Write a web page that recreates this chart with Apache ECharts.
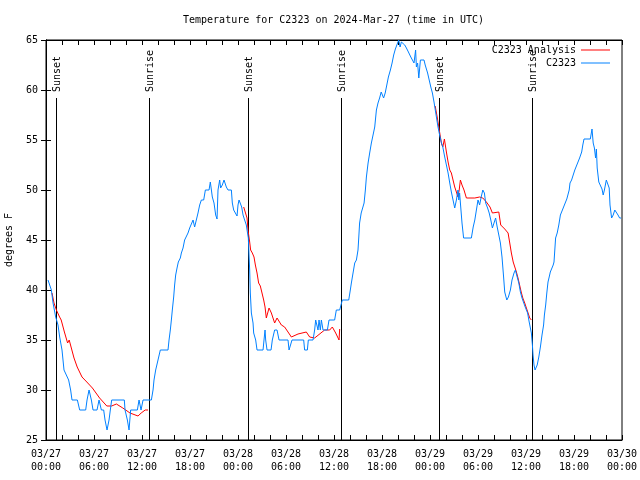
<!DOCTYPE html>
<html><head><meta charset="utf-8">
<script src="https://cdn.jsdelivr.net/npm/echarts@6/dist/echarts.min.js"></script>
<style>html,body{margin:0;padding:0;background:#fff}#c{width:640px;height:480px}</style>
</head><body><div id="c"></div>
<script>
// hours since 2024-03-27 00:00 UTC
const xTickLabels = ['03/27\n00:00','03/27\n06:00','03/27\n12:00','03/27\n18:00','03/28\n00:00','03/28\n06:00','03/28\n12:00','03/28\n18:00','03/29\n00:00','03/29\n06:00','03/29\n12:00','03/29\n18:00','03/30\n00:00'];
const sunTimes = [1.25, 12.875, 25.25, 36.875, 49.125, 60.75];
const sunLabels = ['Sunset','Sunrise','Sunset','Sunrise','Sunset','Sunrise'];
const sunLineTop = 59.2;

const obsHours = [0.25,0.45,0.67,0.88,1.21,1.5,1.71,2.0,2.25,2.54,2.83,3.08,3.25,3.92,4.21,4.96,5.13,5.38,5.67,5.88,6.38,6.63,6.92,7.21,7.38,7.63,7.88,8.04,8.21,9.79,9.88,10.17,10.38,10.58,11.42,11.63,11.88,12.13,13.17,13.38,13.5,13.71,14.0,14.29,15.25,15.38,15.54,15.67,15.79,
15.96,16.08,16.21,16.38,16.54,16.79,16.92,17.13,17.33,17.54,17.75,17.96,18.17,18.38,18.58,18.79,19.0,19.21,19.42,19.71,19.92,20.38,20.54,20.67,20.79,21.0,21.21,21.38,21.5,21.71,21.83,22.04,22.25,22.42,22.54,22.75,23.17,23.29,23.46,23.71,23.88,24.0,24.13,24.33,24.46,24.63,24.83,25.04,25.17,25.29,25.38,25.46,25.54,
25.67,25.88,25.96,26.21,26.38,27.13,27.25,27.38,27.46,27.63,28.13,28.29,28.58,28.88,29.13,30.25,30.38,30.63,30.75,32.21,32.33,32.67,32.79,33.38,33.58,33.71,33.88,34.0,34.13,34.29,34.42,34.63,35.17,35.38,36.08,36.29,36.71,37.04,
37.84,38.04,38.17,38.38,38.59,38.8,39.0,39.1,39.2,39.4,39.76,39.92,40.05,40.26,40.46,40.67,40.75,40.95,41.09,41.3,41.5,41.7,41.9,42.05,42.2,42.4,42.6,42.8,43.05,43.26,43.46,43.67,43.88,44.09,44.26,44.42,44.63,44.84,45.05,45.3,45.6,45.8,46.0,46.2,46.3,46.45,46.6,46.8,47.25,47.4,47.7,47.9,48.1,48.3,48.5,48.6,48.8,49.0,49.2,49.4,49.6,49.84,50.05,50.26,50.47,50.67,50.88,51.09,51.3,51.5,51.6,51.7,51.84,52.0,52.2,53.17,53.4,53.6,53.8,54.0,54.2,54.4,54.6,54.8,54.96,55.2,55.4,55.6,55.8,56.0,56.2,56.4,56.6,56.8,57.0,57.2,57.34,57.6,57.8,58.05,58.25,58.5,58.67,58.9,59.1,59.3,59.5,59.7,59.9,60.2,60.4,60.67,60.8,60.88,61.0,61.13,61.3,61.4,61.6,61.8,62.0,62.2,62.3,62.46,62.6,62.75,62.9,63.04,63.25,63.4,63.5,63.6,63.7,63.9,64.1,64.3,64.6,64.9,65.1,65.25,65.4,65.5,65.7,65.9,66.1,66.3,66.5,66.7,66.85,66.96,67.1,67.25,68.04,68.25,68.4,68.55,68.7,68.8,68.9,69.1,69.5,69.65,69.8,70.04,70.25,70.4,70.5,70.7,70.9,71.1,71.3,71.5,71.7,71.9];
const obsTemps = [41,41,40,38.7,37.3,36.5,35.3,34,32,31.5,31,30,29,29,28,28,29,30,29,28,28,29,28,28,27,26,27,28,29,29,28,27,26,28,28,29,28,29,29,30,31,32,33,34,34,35,36,37,38,
39.3,40.5,41.5,42.2,42.8,43.2,43.7,44.2,45,45,45.7,46.2,46.3,47,46.3,47,47.7,48.5,49,49,50,50,50.8,51,49.3,48.7,47.5,47.1,50,51,50.2,50.5,51,51,50.3,50,50,48.7,48,48,47.4,48.5,49,49,48.3,47.5,47,46.5,45.8,45.2,43.5,42,39.7,
37.7,36.7,35.7,35,34,34,35,36,35,34,34,35,36,36,35,35,34,34,35,35,34,34,35,35,36,37,37,36,37,36,37,36,36,37,37,38,38,39,
39,40,40.7,41.7,42.7,43,44,45.3,46.7,47.7,48.7,50,51.3,52.7,53.7,54.7,55,55,56.3,58,58.7,59.2,59.8,60,59.2,59.7,60.5,61.3,62,62.7,63.5,64.1,64.3,65,64.3,64.8,65,64.5,64.2,63.8,63.3,63,62.7,64,62.3,62.7,61.2,63,63,62.5,61.7,61,60.3,59.7,58.8,58.3,57.3,56.3,55.5,54.8,54.3,53.3,52.5,51.7,50.7,49.8,49,48.2,49,50,49,49.7,48.3,46.7,45.2,45.2,46.3,47,48,49,48.5,49.3,50,49.7,48.7,48.2,47.7,47,46.2,46.7,47.2,46.3,45.5,44.7,43.3,41.3,39.8,39,39.3,40,41,41.7,42,41.3,40.7,39.8,39.2,39,38.3,37.7,36.8,35.7,34.5,33.5,32.5,32,32,32.5,33.3,34.3,35.5,36.5,37.5,38.5,39.7,40.8,41.3,41.8,42,42.5,42.8,44,45.2,45.7,46.5,47.5,48.1,48.7,49.1,49.2,50,50.7,51,51.5,52,52.2,52.8,53.2,53.2,53.8,54.5,55.1,55.1,56.1,54.7,54.2,53.2,54.1,52.2,50.8,50.1,49.5,50,51,51,50.2,48.5,47.2,47.5,48,48,47.5,47.2,47.2];

const anaHours = [0.75,1.0,1.3,1.7,1.9,2.3,2.7,2.9,3.5,3.9,4.5,5.1,5.8,6.7,7.6,8.2,8.8,9.6,10.5,11.5,11.9,12.4,12.75,12.8,
24.71,24.96,25.13,25.25,25.46,25.58,25.79,26.0,26.17,26.38,26.58,26.79,27.0,27.21,27.38,27.54,27.88,28.17,28.58,28.88,29.42,29.83,30.25,30.67,31.5,32.54,32.96,33.58,34.83,35.46,35.79,36.21,36.63,36.71,36.8,
48.65,48.9,49.1,49.3,49.45,49.6,49.8,50.05,50.26,50.47,50.67,50.88,51.09,51.3,51.5,51.65,51.8,52.0,52.25,52.55,53.6,54.2,54.6,54.8,55.05,55.25,55.5,55.8,56.6,56.84,57.34,57.76,57.97,58.17,58.4,58.6,58.8,59.0,59.2,59.4,59.6,59.84,60.05,60.26,60.47,60.67];
const anaTemps = [39.7,38.7,38,37.3,37,35.8,34.7,35,33.2,32.3,31.3,30.8,30.2,29.2,28.4,28.4,28.6,28.2,27.7,27.4,27.7,28.0,28.0,null,
48.3,48.2,47.2,46,44.8,44,43.7,43.3,42.5,41.7,40.7,40.4,39.7,39,38.3,37.2,38.2,37.7,36.7,37.2,36.5,36.3,35.8,35.3,35.6,35.8,35.3,35.2,36,36,36.3,35.7,35,36.1,null,
58.4,57.3,56.3,55.3,54.6,54.3,55.1,53.8,52.8,52,51.7,51,50.3,49.8,49.3,50,51,50.5,50,49.2,49.2,49.3,49.2,49.3,48.8,48.7,48.3,47.7,47.8,46.5,46.1,45.7,44.7,43.7,42.8,42.3,41.8,41.2,40.5,39.8,39.2,38.7,38.2,37.7,37.2,37];

const BLUE = '#0080ff';
const RED = '#ff0000';
const F = 'DejaVu Sans Mono';

const zip = (a, b) => a.map((v, i) => [v, b[i]]);

const chart = echarts.init(document.getElementById('c'), null, {renderer: 'canvas'});
const xCommon = {
  type: 'value', min: 0, max: 72, interval: 2,
  axisLine: {show: true, lineStyle: {color: '#000', width: 1}},
  axisTick: {show: true, inside: true, length: 5, lineStyle: {color: '#000'}},
  splitLine: {show: false}
};
const yCommon = {
  type: 'value', min: 25, max: 65, interval: 5,
  axisLine: {show: true, lineStyle: {color: '#000', width: 1}},
  axisTick: {show: true, inside: true, length: 5, lineStyle: {color: '#000'}},
  splitLine: {show: false}
};
chart.setOption({
  animation: false,
  backgroundColor: '#fff',
  title: {
    text: 'Temperature for C2323 on 2024-Mar-27 (time in UTC)',
    left: 183, top: 15, padding: 0,
    textStyle: {fontFamily: F, fontSize: 10, fontWeight: 'normal', color: '#000'}
  },
  legend: {
    data: ['C2323 Analysis', 'C2323'],
    orient: 'vertical', right: 30, top: 44, align: 'right',
    icon: 'rect', itemWidth: 29, itemHeight: 1, itemGap: 1, padding: 0,
    textStyle: {fontFamily: F, fontSize: 10, color: '#000', lineHeight: 12}
  },
  grid: {left: 46, right: 18, top: 40, bottom: 40, containLabel: false, outerBoundsMode: 'none',
         show: true, borderColor: '#000', borderWidth: 1, backgroundColor: 'transparent'},
  xAxis: [
    Object.assign({}, xCommon, {
      position: 'bottom',
      axisLabel: {
        show: true, margin: 8, color: '#000', fontFamily: F, fontSize: 10, lineHeight: 13,
        showMinLabel: true, showMaxLabel: true, hideOverlap: false,
        formatter: v => (v % 6 === 0 ? xTickLabels[v / 6] : '')
      }
    }),
    Object.assign({}, xCommon, {position: 'top', axisLabel: {show: false}})
  ],
  yAxis: [
    Object.assign({}, yCommon, {
      position: 'left',
      name: 'degrees F', nameLocation: 'middle', nameRotate: 90, nameGap: 32,
      nameTextStyle: {fontFamily: F, fontSize: 10, color: '#000'},
      axisLabel: {show: true, margin: 8, color: '#000', fontFamily: F, fontSize: 10}
    }),
    Object.assign({}, yCommon, {position: 'right', axisLabel: {show: false}})
  ],
  series: [
    {
      type: 'custom', xAxisIndex: 0, yAxisIndex: 0, silent: true, z: 1,
      data: sunTimes.map((t, i) => [t, i]),
      encode: {x: 0},
      renderItem: (params, api) => {
        const t = api.value(0);
        const i = api.value(1);
        const p0 = api.coord([t, sunLineTop]);
        const p1 = api.coord([t, 25]);
        const px = Math.round(p0[0]) + 0.5;
        return {
          type: 'group',
          children: [
            {type: 'line', shape: {x1: px, y1: p0[1], x2: px, y2: p1[1]}, style: {stroke: '#000', lineWidth: 1}},
            {type: 'text', x: px + 1, y: p0[1] - 6, rotation: Math.PI / 2,
             style: {text: sunLabels[i], fill: '#000', font: '10px "' + F + '"', align: 'left', verticalAlign: 'middle'}}
          ]
        };
      }
    },
    {
      name: 'C2323 Analysis', type: 'line', xAxisIndex: 0, yAxisIndex: 0, z: 2,
      data: zip(anaHours, anaTemps), connectNulls: false,
      showSymbol: false, symbol: 'none',
      lineStyle: {width: 1, color: RED}, itemStyle: {color: RED}
    },
    {
      name: 'C2323', type: 'line', xAxisIndex: 0, yAxisIndex: 0, z: 3,
      data: zip(obsHours, obsTemps),
      showSymbol: false, symbol: 'none',
      lineStyle: {width: 1, color: BLUE}, itemStyle: {color: BLUE}
    }
  ]
});
</script></body></html>
